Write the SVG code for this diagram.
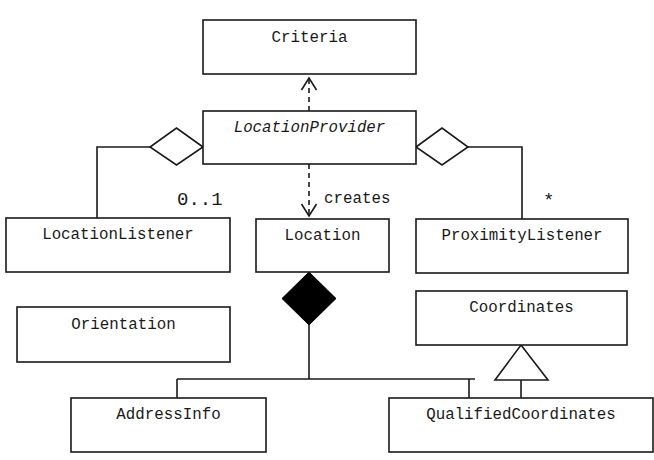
<svg xmlns="http://www.w3.org/2000/svg" width="654" height="460" viewBox="0 0 654 460">
<style>
.box{fill:#fff;stroke:#1a1a1a;stroke-width:1.6}
.ln{fill:none;stroke:#1a1a1a;stroke-width:1.6}
.dash{fill:none;stroke:#1a1a1a;stroke-width:1.6;stroke-dasharray:5,4}
text{font-family:"Liberation Mono","Courier New",monospace;font-size:15.8px;fill:#1a1a1a;text-anchor:middle}
.it{font-style:italic}
.mult{font-size:19px;text-anchor:start}
</style>
<rect width="654" height="460" fill="#fff"/>
<g id="connectors">
<line class="dash" x1="309" y1="111" x2="309" y2="80"/>
<polyline class="ln" points="301.5,90 309,78 316.5,90"/>
<line class="dash" x1="309" y1="164" x2="309" y2="214"/>
<polyline class="ln" points="301.5,204 309,216 316.5,204"/>
<text x="324" y="203" style="text-anchor:start">creates</text>
<polyline class="ln" points="150,147 97,147 97,218"/>
<polygon class="box" points="203,147 176.5,128 150,147 176.5,165"/>
<text class="mult" x="177" y="205">0..1</text>
<polyline class="ln" points="468,147 522,147 522,219"/>
<polygon class="box" points="416,147 442,128 468,147 442,165"/>
<text class="mult" x="543" y="206">*</text>
<line class="ln" x1="309" y1="325" x2="309" y2="379"/>
<line class="ln" x1="177" y1="379" x2="475" y2="379"/>
<line class="ln" x1="177" y1="379" x2="177" y2="398"/>
<line class="ln" x1="469" y1="379" x2="469" y2="398"/>
<polygon points="309,272 336,298.5 309,325 282,298.5" fill="#000" stroke="#000" stroke-width="1"/>
<line class="ln" x1="521" y1="380" x2="521" y2="398"/>
<polygon class="box" points="521,345 548,380 495,380"/>
</g>
<g id="Criteria"><rect class="box" x="203" y="20" width="213" height="54"/><text x="309.5" y="42">Criteria</text></g>
<g id="LocationProvider"><rect class="box" x="203" y="111" width="213" height="53"/><text class="it" x="309.5" y="132">LocationProvider</text></g>
<g id="LocationListener"><rect class="box" x="6" y="218" width="224" height="54"/><text x="118" y="239">LocationListener</text></g>
<g id="Location"><rect class="box" x="256" y="219" width="133" height="53"/><text x="322.5" y="240">Location</text></g>
<g id="ProximityListener"><rect class="box" x="416" y="219" width="212" height="54"/><text x="522" y="240">ProximityListener</text></g>
<g id="Orientation"><rect class="box" x="17" y="307" width="213" height="55"/><text x="123.5" y="329">Orientation</text></g>
<g id="Coordinates"><rect class="box" x="416" y="291" width="211" height="54"/><text x="521.5" y="312">Coordinates</text></g>
<g id="AddressInfo"><rect class="box" x="71" y="398" width="195" height="54"/><text x="168.5" y="419">AddressInfo</text></g>
<g id="QualifiedCoordinates"><rect class="box" x="389" y="398" width="264" height="54"/><text x="521" y="419">QualifiedCoordinates</text></g>
</svg>
